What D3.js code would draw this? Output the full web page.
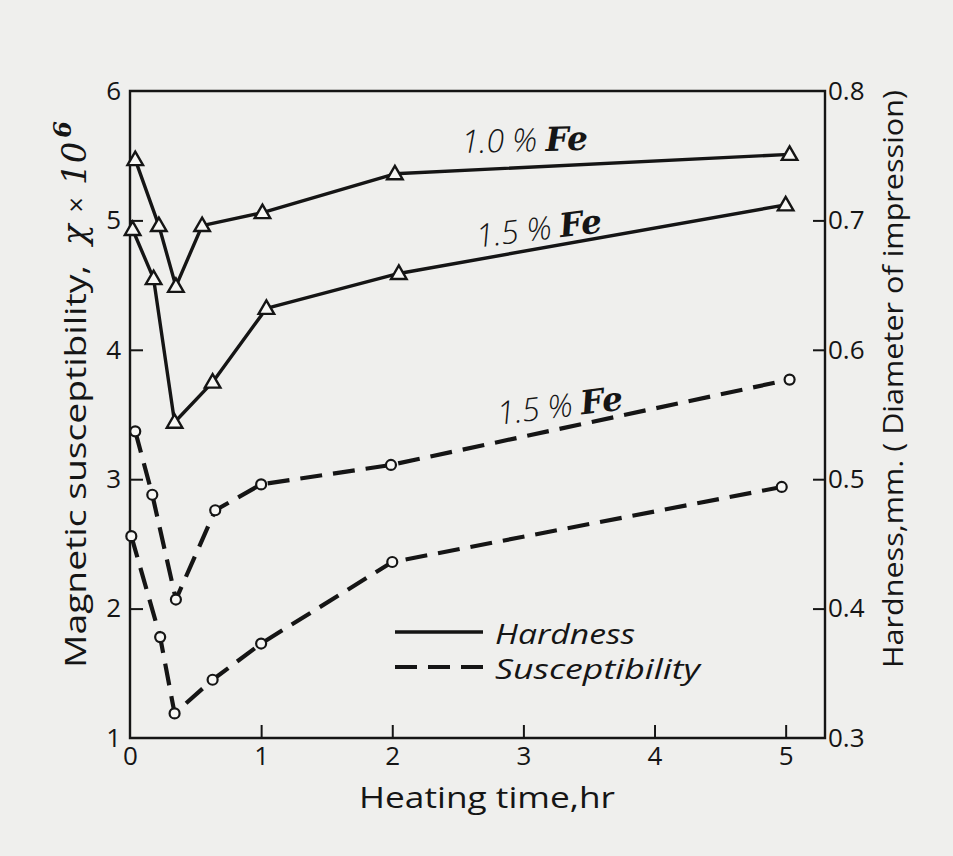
<!DOCTYPE html>
<html>
<head>
<meta charset="utf-8">
<script src="https://cdn.jsdelivr.net/npm/d3@7"></script>
<style>
  body { margin: 0; background: #efefed; }
  svg { display: block; }
  .tick text { font-family: "Open Sans", sans-serif; font-size: 26px; fill: #151515; }
  .tick line { stroke: #151515; stroke-width: 2; }
</style>
</head>
<body>
<svg id="chart" width="953" height="856"></svg>
<script>
// axis ticks
var timeTicks = [0, 1, 2, 3, 4, 5];
var suscTicks = [1, 2, 3, 4, 5, 6];
var hardTicks = [0.3, 0.4, 0.5, 0.6, 0.7, 0.8];

// hardness, mm (right axis)
var hard10Time = [0.04, 0.22, 0.35, 0.55, 1.01, 2.02, 5.03];
var hard10     = [0.747, 0.696, 0.649, 0.696, 0.706, 0.736, 0.751];
var hard15Time = [0.02, 0.18, 0.34, 0.63, 1.04, 2.05, 5.0];
var hard15     = [0.693, 0.655, 0.544, 0.575, 0.632, 0.659, 0.712];

// magnetic susceptibility x 10^6 (left axis)
var susc15Time = [0.04, 0.17, 0.35, 0.65, 1.0, 1.99, 5.03];
var susc15     = [3.37, 2.88, 2.07, 2.76, 2.96, 3.11, 3.77];
var susc10Time = [0.01, 0.23, 0.34, 0.63, 1.0, 2.0, 4.97];
var susc10     = [2.56, 1.78, 1.19, 1.45, 1.73, 2.36, 2.94];

var ink = "#151515";
var sans = "Open Sans, sans-serif";
var svg = d3.select("#chart");

var x = d3.scaleLinear().domain([0, 5.3]).range([130, 825]);
var yL = d3.scaleLinear().domain([1, 6]).range([738, 91]);
var yR = d3.scaleLinear().domain([0.3, 0.8]).range([738, 91]);

// 1. Frame
svg.append("path")
	.attr("d", "M" + x(0) + "," + yL(6) + "H" + x(5.3) + "V" + yL(1) + "H" + x(0) + "Z")
	.attr("fill", "none")
	.attr("stroke", ink)
	.attr("stroke-width", 2.4);

// 2. Axes, ticks pointing inward
svg.append("g")
	.attr("transform", "translate(" + x(0) + ",0)")
	.call(d3.axisLeft(yL).tickValues(suscTicks).tickSizeInner(-13).tickSizeOuter(0).tickPadding(9).tickFormat(d3.format("d")))
	.call(function(g) { g.select(".domain").remove(); })
	.call(function(g) { g.selectAll(".tick line").filter(function(d) { return d == 1 || d == 6; }).remove(); });

svg.append("g")
	.attr("transform", "translate(" + x(5.3) + ",0)")
	.call(d3.axisRight(yR).tickValues(hardTicks).tickSizeInner(-12).tickSizeOuter(0).tickPadding(3).tickFormat(d3.format(".1f")))
	.call(function(g) { g.select(".domain").remove(); })
	.call(function(g) { g.selectAll(".tick line").filter(function(d) { return d < 0.35 || d > 0.75; }).remove(); });

svg.append("g")
	.attr("transform", "translate(0," + yL(1) + ")")
	.call(d3.axisBottom(x).tickValues(timeTicks).tickSizeInner(-13).tickSizeOuter(0).tickPadding(9).tickFormat(d3.format("d")))
	.call(function(g) { g.select(".domain").remove(); })
	.call(function(g) { g.selectAll(".tick line").filter(function(d) { return d == 0; }).remove(); });

// 3. Axis titles
svg.append("text")
	.attr("x", 359).attr("y", 808)
	.attr("textLength", 256).attr("lengthAdjust", "spacingAndGlyphs")
	.style("font-family", sans).style("font-size", "30px").attr("fill", ink)
	.text("Heating time,hr");

var leftTitle = svg.append("text")
	.attr("transform", "translate(86,668) rotate(-90)")
	.style("font-family", sans).style("font-size", "29px").attr("fill", ink);
leftTitle.append("tspan").attr("textLength", 403).attr("lengthAdjust", "spacingAndGlyphs").text("Magnetic susceptibility,");
leftTitle.append("tspan").attr("dx", 20).style("font-style", "italic").style("font-size", "34px").style("font-family", "DejaVu Serif, serif").text("\u03c7");
leftTitle.append("tspan").attr("dx", 12).style("font-size", "27px").text("\u00d7");
leftTitle.append("tspan").attr("dx", 12).style("font-style", "italic").style("font-size", "34px").style("font-family", "DejaVu Serif, serif").text("10");
leftTitle.append("tspan").attr("dx", 4).attr("dy", -15).style("font-size", "24px").style("font-weight", "bold").style("font-style", "italic").style("font-family", "DejaVu Serif, serif").text("6");

svg.append("text")
	.attr("transform", "translate(903,668) rotate(-90)")
	.attr("textLength", 578).attr("lengthAdjust", "spacingAndGlyphs")
	.style("font-family", sans).style("font-size", "27px").attr("fill", ink)
	.text("Hardness,mm. ( Diameter of impression)");

// 4. Curves
var series = [
	{ t: hard10Time, v: hard10, y: yR, dash: null, mark: "tri" },
	{ t: hard15Time, v: hard15, y: yR, dash: null, mark: "tri" },
	{ t: susc15Time, v: susc15, y: yL, dash: "22,11", mark: "circ" },
	{ t: susc10Time, v: susc10, y: yL, dash: "22,11", mark: "circ" }
];

var triangle = d3.symbol().type(d3.symbolTriangle).size(105);

series.forEach(function(s) {
	var pts = s.t.map(function(t, i) { return [x(t), s.y(s.v[i])]; });

	svg.append("path")
		.attr("d", d3.line()(pts))
		.attr("fill", "none")
		.attr("stroke", ink)
		.attr("stroke-width", s.dash ? 4.2 : 3.4)
		.attr("stroke-dasharray", s.dash)
		.attr("stroke-linejoin", "round");

	pts.forEach(function(p) {
		if (s.mark == "tri") {
			svg.append("path")
				.attr("d", triangle())
				.attr("transform", "translate(" + p[0] + "," + (p[1] + 1) + ")")
				.attr("fill", "#f7f7f5")
				.attr("stroke", ink)
				.attr("stroke-width", 2.4);
		} else {
			svg.append("circle")
				.attr("cx", p[0]).attr("cy", p[1]).attr("r", 5)
				.attr("fill", "#f7f7f5")
				.attr("stroke", ink)
				.attr("stroke-width", 2.2);
		}
	});
});

// 5. Curve labels
function curveLabel(px, py, angle, pct) {
	var t = svg.append("text")
		.attr("transform", "translate(" + px + "," + py + ") rotate(" + angle + ")")
		.attr("fill", ink);
	t.append("tspan")
		.style("font-family", sans).style("font-style", "italic").style("font-weight", "300").style("font-size", "32px")
		.text(pct + " % ");
	t.append("tspan")
		.style("font-family", "DejaVu Serif, serif").style("font-style", "italic").style("font-weight", "bold").style("font-size", "33px")
		.text("Fe");
}

curveLabel(x(2.53), yL(5.52), -1.5, "1.0");
curveLabel(x(2.65), yL(4.79), -7, "1.5");
curveLabel(x(2.81), yL(3.42), -7, "1.5");

// 6. Legend
var legend = [
	{ name: "Hardness", dash: null, y: 632, len: 140 },
	{ name: "Susceptibility", dash: "22,11", y: 667, len: 205 }
];

legend.forEach(function(l) {
	svg.append("line")
		.attr("x1", 395).attr("x2", 483)
		.attr("y1", l.y).attr("y2", l.y)
		.attr("stroke", ink)
		.attr("stroke-width", l.dash ? 4.2 : 3.4)
		.attr("stroke-dasharray", l.dash);
	svg.append("text")
		.attr("x", 495).attr("y", l.y + 12)
		.attr("textLength", l.len).attr("lengthAdjust", "spacingAndGlyphs")
		.style("font-family", sans).style("font-style", "italic").style("font-size", "28px")
		.attr("fill", ink)
		.text(l.name);
});
</script>
</body>
</html>
